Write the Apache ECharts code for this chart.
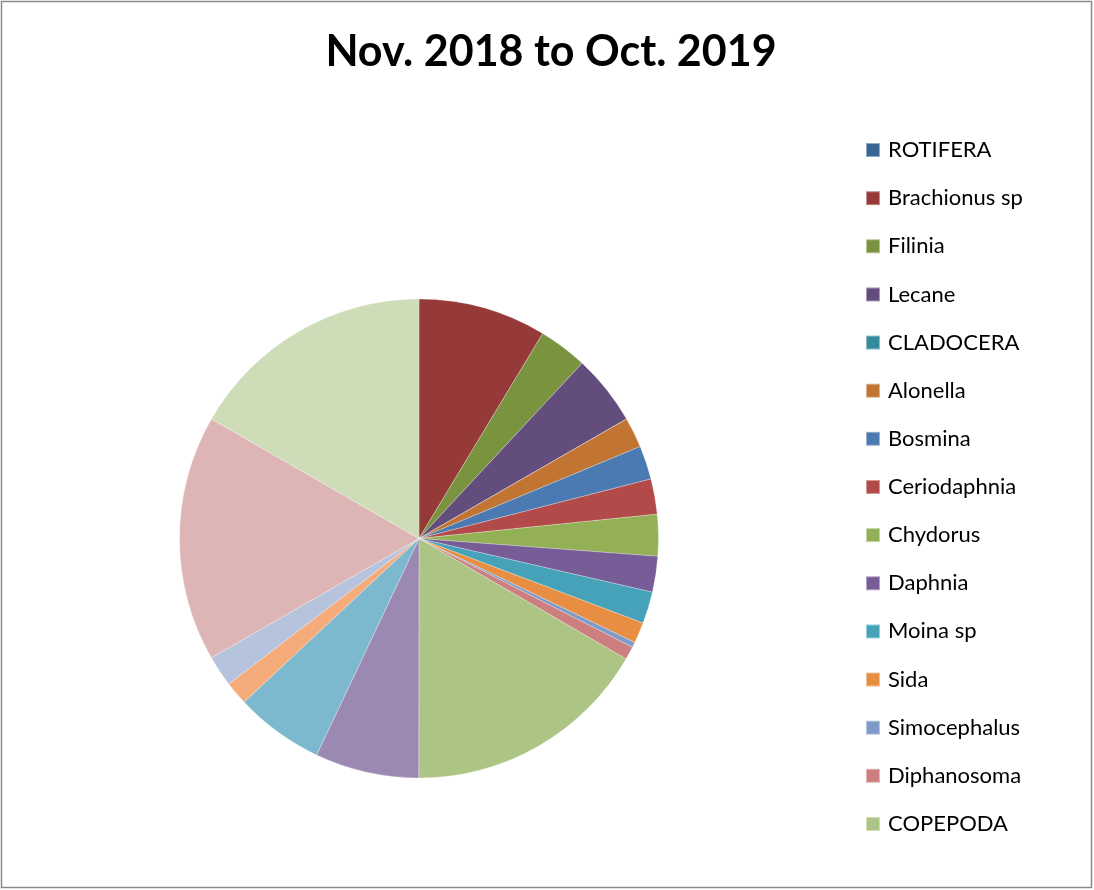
<!DOCTYPE html>
<html>
<head>
<meta charset="utf-8">
<script src="https://cdn.jsdelivr.net/npm/echarts@6/dist/echarts.min.js"></script>
<style>
  html, body { margin: 0; padding: 0; background: #ffffff; }
  #chart { width: 1094px; height: 890px; }
</style>
</head>
<body>
<div id="chart"></div>
<script>
// Zooplankton composition, share of total count (%)
const categories = [
  'ROTIFERA', 'Brachionus sp', 'Filinia', 'Lecane',
  'CLADOCERA', 'Alonella', 'Bosmina', 'Ceriodaphnia', 'Chydorus',
  'Daphnia', 'Moina sp', 'Sida', 'Simocephalus', 'Diphanosoma',
  'COPEPODA', 'Cyclops', 'Mesocyclops', 'Diaptomus', 'Nauplius',
  'OSTRACODA', 'Cypris'
];
const values = [
  0, 8.64, 3.29, 4.76,
  0, 2.04, 2.27, 2.38, 2.81,
  2.41, 2.15, 1.40, 0.35, 0.89,
  16.63, 7.02, 6.00, 1.58, 2.09,
  16.61, 16.69
];
// Only the first fifteen entries fit in the legend column
const legendNames = categories.slice(0, 15);

const palette = [
  '#3b6496', '#953a38', '#79933f', '#624d7d', '#358a9c', '#c27433',
  '#4a7ab1', '#b14a48', '#94b056', '#775c97', '#46a2b8', '#e88e43',
  '#7e9ac9', '#cc7f7e', '#adc584', '#9c89b3', '#7db9ce', '#f6ab7a',
  '#b6c3dc', '#deb5b5', '#cfdcb8'
];

const chart = echarts.init(document.getElementById('chart'), null, { renderer: 'canvas' });

chart.setOption({
  animation: false,
  backgroundColor: '#ffffff',
  color: palette,
  title: {
    text: 'Nov. 2018 to Oct. 2019',
    left: 546,
    top: 26,
    textAlign: 'center',
    textStyle: {
      fontFamily: 'Lato',
      fontWeight: 'bold',
      fontSize: 43,
      color: '#000000'
    }
  },
  legend: {
    orient: 'vertical',
    left: 865,
    top: 139,
    padding: 0,
    data: legendNames,
    icon: 'rect',
    itemWidth: 14,
    itemHeight: 14,
    itemGap: 26.14,
    selectedMode: false,
    textStyle: {
      fontFamily: 'Lato',
      fontSize: 22,
      lineHeight: 22,
      color: '#000000',
      padding: [0, 0, 0, 3]
    }
  },
  graphic: [{
    type: 'rect',
    shape: { x: 1.5, y: 1.5, width: 1090, height: 886 },
    style: { fill: 'none', stroke: '#8a8a8a', lineWidth: 1.5 },
    silent: true
  }],
  series: [{
    type: 'pie',
    center: [419, 538.5],
    radius: 239.5,
    startAngle: 90,
    clockwise: true,
    label: { show: false },
    labelLine: { show: false },
    emphasis: { disabled: true },
    itemStyle: { borderColor: 'rgba(255,255,255,0.45)', borderWidth: 0.6 },
    data: categories.map((name, i) => ({ name: name, value: values[i] }))
  }]
});
</script>
</body>
</html>
